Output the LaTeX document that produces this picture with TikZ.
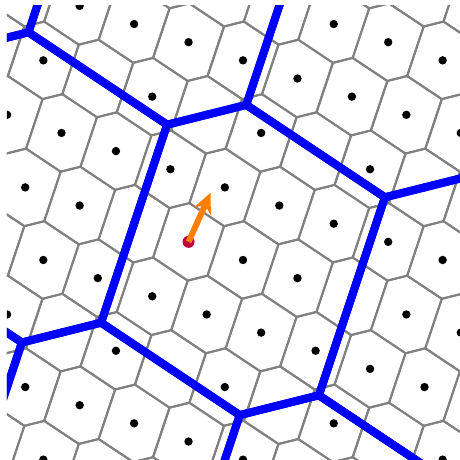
\documentclass[tikz,border=0pt]{standalone}
\usetikzlibrary{arrows.meta}

\definecolor{sitered}{RGB}{192,0,60}
\definecolor{moveorange}{RGB}{255,128,0}

\begin{document}
\begin{tikzpicture}[
  x=18.15pt, y=18.15pt,
  cell/.style={gray, line width=2pt},
  supercell/.style={blue, line width=8pt, line join=round},
  site/.style={black},
  marked/.style={sitered},
  move/.style={moveorange, line width=6pt, -{Stealth[length=20pt, width=18pt, inset=6pt]}}
]
  % Frame of the picture, the cells are cut to the window
  \useasboundingbox (-243pt,-200pt) rectangle (217pt,260pt);
  \clip (-236pt,-200pt) rectangle (217pt,254pt);

  % Fine lattice spanned by (3,-1) and (2,3): one Voronoi hexagon per site
  \foreach \m in {-8,...,8}
    \foreach \n in {-6,...,6} {
      \begin{scope}[shift={({3*\m+2*\n},{-\m+3*\n})}]
        \draw[cell] (1.9545,0.8636) -- (0.0455,2.1364) -- (-1.0455,1.8636)
          -- (-1.9545,-0.8636) -- (-0.0455,-2.1364) -- (1.0455,-1.8636) -- cycle;
      \end{scope}
    }

  % Lattice sites (the blue walls are drawn over them)
  \foreach \m in {-8,...,8}
    \foreach \n in {-6,...,6}
      \fill[site] ({3*\m+2*\n},{-\m+3*\n}) circle (4.2pt);

  % Coarse lattice: four times the fine one, thick blue cells
  \foreach \m in {-2,...,2}
    \foreach \n in {-2,...,2} {
      \begin{scope}[shift={({4*(3*\m+2*\n)},{4*(-\m+3*\n)})}]
        \draw[supercell] (7.8182,3.4545) -- (0.1818,8.5455) -- (-4.1818,7.4545)
          -- (-7.8182,-3.4545) -- (-0.1818,-8.5455) -- (4.1818,-7.4545) -- cycle;
      \end{scope}
    }

  % Marked site and its displacement
  \coordinate (S) at (-3,1);
  \coordinate (T) at (-1.78,3.71);
  \fill[marked] (S) circle (6pt);
  \draw[move] (S) -- (T);

\end{tikzpicture}
\end{document}
